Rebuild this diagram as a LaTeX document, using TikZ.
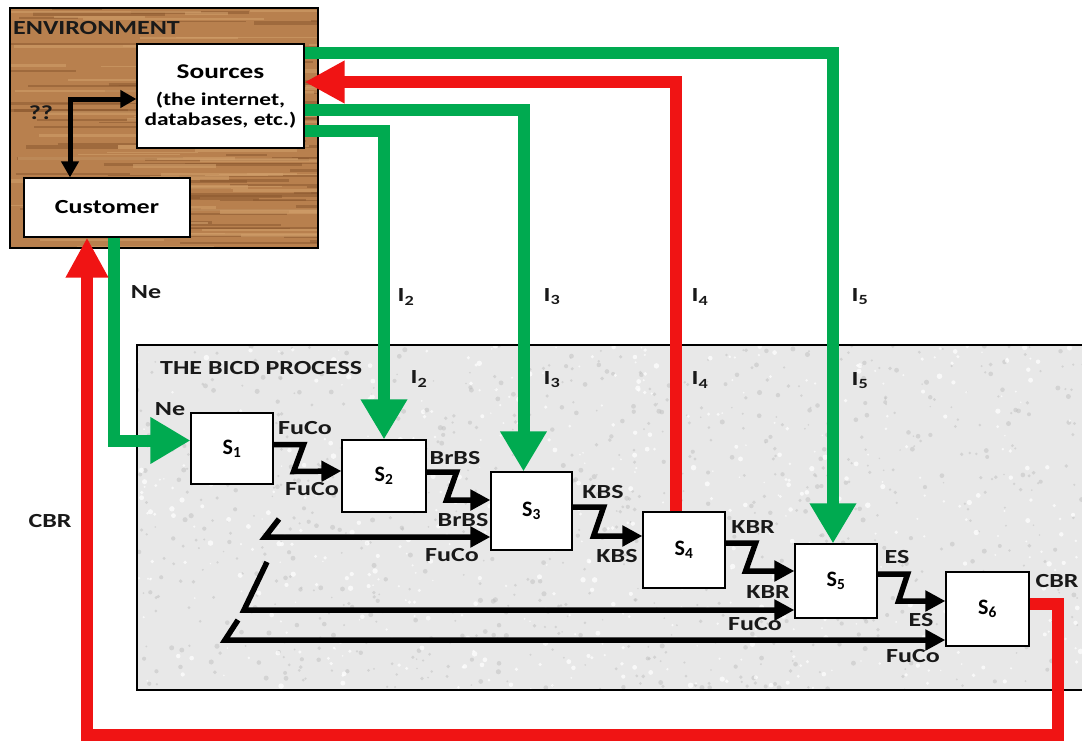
\documentclass[tikz,border=0pt]{standalone}
\usepackage{fontspec}
\setmainfont{Carlito}[FakeStretch=1.3]
\newfontfamily\sfont{Carlito}
\usetikzlibrary{arrows.meta}
\definecolor{wood}{RGB}{184,128,78}
\definecolor{wooddark}{RGB}{140,88,48}
\definecolor{woodlight}{RGB}{208,158,106}
\definecolor{procfill}{RGB}{232,232,232}
\definecolor{gline}{RGB}{0,170,80}
\definecolor{rline}{RGB}{240,20,20}
\begin{document}
\begin{tikzpicture}[x=1pt,y=-1pt,
  box/.style={draw=black,line width=1.2pt,fill=white,inner sep=0pt},
  sbox/.style={box,font=\sfont\bfseries\fontsize{22}{22}\selectfont},
  lbl/.style={font=\bfseries\fontsize{20}{20}\selectfont,inner sep=0pt,text=black!90},
  gflow/.style={draw=gline,line width=12pt,-{Triangle[length=40pt,width=44pt]}},
  rflow/.style={draw=rline,line width=12pt,-{Triangle[length=40pt,width=40pt]}},
  zarrow/.style={draw=black,line width=5.5pt,-{Triangle[length=20pt,width=20pt]}},
  qarrow/.style={draw=black,line width=5pt,{Triangle[length=16pt,width=17pt]}-{Triangle[length=16pt,width=17pt]}}
]
\useasboundingbox (0,0) rectangle (1082,744);
% process box
\fill[procfill] (137,345) rectangle (1090,690);
\begin{scope}
\clip (137,345) rectangle (1090,690);
\pgfmathsetseed{7}
\foreach \i in {1,...,900}{
  \pgfmathsetmacro\xx{137+rnd*950}
  \pgfmathsetmacro\yy{345+rnd*345}
  \pgfmathsetmacro\rr{0.8+rnd*1.8}
  \fill[gray!50,opacity=0.5] (\xx,\yy) circle (\rr);
}
\foreach \i in {1,...,600}{
  \pgfmathsetmacro\xx{137+rnd*950}
  \pgfmathsetmacro\yy{345+rnd*345}
  \pgfmathsetmacro\rr{0.8+rnd*2}
  \fill[white,opacity=0.7] (\xx,\yy) circle (\rr);
}
\end{scope}
\draw[line width=1.2pt] (137,345) rectangle (1090,690);
% environment box
\fill[wood] (10,8) rectangle (318,248);
\begin{scope}
\clip (10,8) rectangle (318,248);
\pgfmathsetseed{3}
\foreach \i in {1,...,80}{
  \pgfmathsetmacro\xx{rnd*320}
  \pgfmathsetmacro\yy{8+rnd*240}
  \pgfmathsetmacro\ll{40+rnd*180}
  \pgfmathsetmacro\ww{1+rnd*2.5}
  \draw[wooddark,line width=\ww pt,opacity=0.55] (\xx,\yy) -- ++(\ll,0);
}
\foreach \i in {1,...,60}{
  \pgfmathsetmacro\xx{rnd*320}
  \pgfmathsetmacro\yy{8+rnd*240}
  \pgfmathsetmacro\ll{40+rnd*180}
  \pgfmathsetmacro\ww{1+rnd*3}
  \draw[woodlight,line width=\ww pt,opacity=0.6] (\xx,\yy) -- ++(\ll,0);
}
\end{scope}
\draw[line width=1.5pt] (10,8) rectangle (318,248);
\node[lbl,anchor=west] (envlbl) at (13,28) {ENVIRONMENT};
\node[lbl] (qq) at (41,113) {??};
\node[lbl,anchor=west] (proclbl) at (160,368) {THE BICD PROCESS};

% nodes
\node[box,minimum width=167pt,minimum height=104pt,align=center,font=\bfseries\fontsize{18}{20}\selectfont] (src) at (220.5,96)
  {{\fontsize{21}{21}\selectfont Sources}\\[7pt](the internet,\\databases, etc.)};
\node[box,minimum width=166pt,minimum height=59pt,font=\bfseries\fontsize{20}{20}\selectfont] (cust) at (107,207.5) {Customer};
\node[sbox,minimum width=82pt,minimum height=71pt] (S1) at (232,448.5) {S\textsubscript{1}};
\node[sbox,minimum width=84pt,minimum height=72pt] (S2) at (384,476) {S\textsubscript{2}};
\node[sbox,minimum width=81pt,minimum height=78pt] (S3) at (531.5,511) {S\textsubscript{3}};
\node[sbox,minimum width=82pt,minimum height=76pt] (S4) at (684,550) {S\textsubscript{4}};
\node[sbox,minimum width=82pt,minimum height=74pt] (S5) at (836,581) {S\textsubscript{5}};
\node[sbox,minimum width=83pt,minimum height=74pt] (S6) at (987.5,609) {S\textsubscript{6}};

% customer <-> sources
\draw[qarrow] ([xshift=-37pt]cust.north) |- ([yshift=-3pt]src.west);

% green / red flows
\draw[gflow] ([yshift=43pt]src.east) -| ([xshift=-3pt]S5.north);
\draw[rflow] ([xshift=-8pt]S4.north) |- ([yshift=14pt]src.east);
\draw[gflow] ([yshift=-14pt]src.east) -| ([xshift=-8pt]S3.north);
\draw[gflow] ([yshift=-35pt]src.east) -| (S2.north);
\draw[gflow] ([xshift=7pt]cust.south) |- ([yshift=8pt]S1.west);
\coordinate (cbrA) at (1058,735);
\draw[rflow] ([yshift=5pt]S6.east) -| (cbrA) -| ([xshift=-20pt]cust.south);

% Z connectors
\draw[zarrow] ([yshift=4pt]S1.east) -- ++(30,0) -- ++(-10,27) -- ([yshift=5pt]S2.west);
\draw[zarrow] ([yshift=4pt]S2.east) -- ++(30,0) -- ++(-10,28) -- ([yshift=11pt]S3.west);
\draw[zarrow] ([yshift=4pt]S3.east) -- ++(31,0) -- ++(-10,29) -- ([yshift=14pt]S4.west);
\draw[zarrow] ([yshift=7pt]S4.east) -- ++(30,0) -- ++(-10,28) -- ([yshift=10pt]S5.west);
\draw[zarrow] ([yshift=7pt]S5.east) -- ++(30,0) -- ++(-9,27) -- ([yshift=8pt]S6.west);

% long FuCo arrows
\coordinate (fa) at (279,519);
\coordinate (fb) at (267,562);
\coordinate (fc) at (238,620);
\draw[zarrow] (fa) -- (265,537) -- ([yshift=-26pt]S3.west);
\draw[zarrow] (fb) -- (244,610) -- ([yshift=-29pt]S5.west);
\draw[zarrow] (fc) -- (225,640) -- ([yshift=-31pt]S6.west);

% labels
\node[lbl] (lNe) at (146,292) {Ne};
\node[lbl] (lI2) at (406,297) {I\textsubscript{2}};
\node[lbl] (lI3) at (552,297) {I\textsubscript{3}};
\node[lbl] (lI4) at (700,297) {I\textsubscript{4}};
\node[lbl] (lI5) at (860,297) {I\textsubscript{5}};
\node[lbl] (mI2) at (419,379) {I\textsubscript{2}};
\node[lbl] (mI3) at (552,380) {I\textsubscript{3}};
\node[lbl] (mI4) at (700,380) {I\textsubscript{4}};
\node[lbl] (mI5) at (860,381) {I\textsubscript{5}};
\node[lbl] (mNe) at (170,409) {Ne};
\node[lbl] (f1t) at (305,428) {FuCo};
\node[lbl] (f1b) at (312,489) {FuCo};
\node[lbl] (b2t) at (455,458) {BrBS};
\node[lbl] (b2b) at (463,520) {BrBS};
\node[lbl] (f3) at (452,555) {FuCo};
\node[lbl] (k3t) at (603,492) {KBS};
\node[lbl] (k3b) at (617,556) {KBS};
\node[lbl] (k4t) at (753,527) {KBR};
\node[lbl] (k4b) at (768,592) {KBR};
\node[lbl] (f5) at (755,624) {FuCo};
\node[lbl] (e5t) at (897,557) {ES};
\node[lbl] (e5b) at (921,620) {ES};
\node[lbl] (f6) at (913,656) {FuCo};
\node[lbl] (cbr1) at (1057,581) {CBR};
\node[lbl] (cbr2) at (50,521) {CBR};
\end{tikzpicture}
\end{document}
